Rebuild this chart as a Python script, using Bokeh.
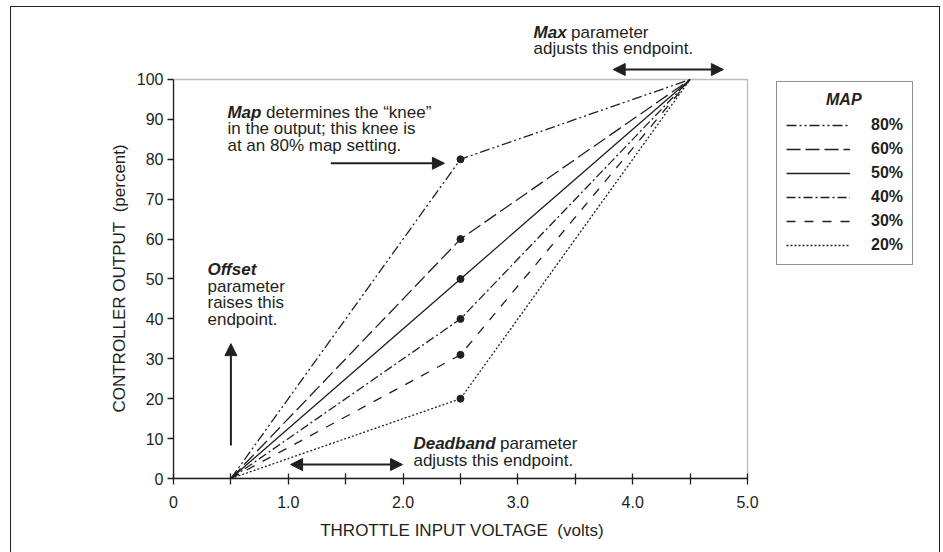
from bokeh.plotting import figure
from bokeh.models import (Range1d, FixedTicker, Label, Arrow, NormalHead,
                          BoxAnnotation, Legend, LegendItem)
from bokeh.embed import file_html
from bokeh.resources import INLINE

# ---------------- data ----------------
map_settings = ["80%", "60%", "50%", "40%", "30%", "20%"]
knee_outputs = [80, 60, 50, 40, 31, 20]       # controller output (%) at the knee
start_voltage = 0.5                            # deadband endpoint (volts)
knee_voltage = 2.5
end_voltage = 4.5                              # max endpoint (volts)
start_output = 0
end_output = 100
x_ticks = [0, 1, 2, 3, 4, 5]
x_minor_ticks = [0.5, 1.5, 2.5, 3.5, 4.5]
x_tick_labels = ["0", "1.0", "2.0", "3.0", "4.0", "5.0"]
y_ticks = [0, 10, 20, 30, 40, 50, 60, 70, 80, 90, 100]

# ---------------- styles ----------------
FONT = "Liberation Sans"
INK = "#231f20"
NBSP = "\u00a0"
dash_styles = ["10 3 2 3 2 3", "14 5", "solid", "9 3 2 3", "9 9", "2 2"]

# the frame extends beyond the axes' bounds so that the notes above the
# box and the legend to its right are not clipped
p = figure(width=928, height=545,
           frame_width=766, frame_height=471,
           x_range=Range1d(0, 6.6725), y_range=Range1d(0, 118.045),
           min_border_left=162, min_border_right=0,
           min_border_top=0, min_border_bottom=74,
           output_backend="svg", toolbar_location=None,
           background_fill_color="white", border_fill_color="white",
           margin=(7, 0, 0, 11),
           styles={"outline": "1.5px solid #231f20"})
p.grid.visible = False
p.outline_line_color = None

# box around the data area
p.add_layout(BoxAnnotation(left=x_ticks[0], right=x_ticks[-1],
                           bottom=y_ticks[0], top=y_ticks[-1],
                           fill_alpha=0, line_color=INK, line_width=1.3))

# x axis (label padded so that it is centred under the 0-5 V span)
xa = p.xaxis[0]
xa.bounds = (x_ticks[0], x_ticks[-1])
xa.ticker = FixedTicker(ticks=x_ticks, minor_ticks=x_minor_ticks)
xa.major_label_overrides = {t: lab for t, lab in zip(x_ticks, x_tick_labels)}
xa.major_tick_in = 5
xa.major_tick_out = 6
xa.minor_tick_in = 5
xa.minor_tick_out = 6
xa.axis_label = "THROTTLE INPUT VOLTAGE" + NBSP + " (volts)" + NBSP * 40
xa.major_label_standoff = 11
xa.axis_label_standoff = 10

# y axis (label padded so that it is centred beside the 0-100 % span)
ya = p.yaxis[0]
ya.bounds = (y_ticks[0], y_ticks[-1])
ya.ticker = FixedTicker(ticks=y_ticks, minor_ticks=[])
ya.major_tick_in = 0
ya.major_tick_out = 6
ya.minor_tick_in = 0
ya.minor_tick_out = 0
ya.axis_label = "CONTROLLER OUTPUT" + NBSP + " (percent)" + NBSP * 15
ya.major_label_standoff = 4
ya.axis_label_standoff = 5

for ax in (xa, ya):
    ax.axis_line_color = INK
    ax.axis_line_width = 1.3
    ax.major_tick_line_color = INK
    ax.minor_tick_line_color = INK
    ax.major_tick_line_width = 1.3
    ax.minor_tick_line_width = 1.3
    ax.major_label_text_font = FONT
    ax.major_label_text_font_size = "16px"
    ax.major_label_text_color = INK
    ax.axis_label_text_font = FONT
    ax.axis_label_text_font_size = "17px"
    ax.axis_label_text_font_style = "normal"
    ax.axis_label_text_color = INK

# lines
items = []
for label, knee, dash in zip(map_settings, knee_outputs, dash_styles):
    r = p.line([start_voltage, knee_voltage, end_voltage],
               [start_output, knee, end_output],
               line_color=INK, line_width=1.3, line_dash=dash)
    items.append(LegendItem(label=label, renderers=[r]))
p.scatter([knee_voltage] * len(knee_outputs), knee_outputs, size=7,
          fill_color=INK, line_color=INK)

legend = Legend(items=items, location=(603, 213), title=NBSP * 9 + "MAP",
                title_text_font=FONT, title_text_font_size="16px",
                title_text_font_style="bold italic", title_text_color=INK,
                title_standoff=6,
                label_text_font=FONT, label_text_font_size="16px",
                label_text_font_style="bold", label_text_color=INK,
                glyph_width=64, glyph_height=20, label_height=20,
                label_standoff=21, spacing=4, padding=9, margin=0,
                border_line_color=INK, border_line_width=1.3,
                background_fill_color="white", background_fill_alpha=1)
p.add_layout(legend, "center")

# annotations
def lab(text, x, y, style="normal", x_offset=0):
    p.add_layout(Label(x=x, y=y, x_offset=x_offset, text=text, text_font=FONT,
                       text_font_size="17px", text_font_style=style,
                       text_color=INK, text_baseline="middle"))

lab("Map", 0.47, 91.73, "bold italic")
lab("determines the \u201cknee\u201d", 0.47, 91.73, x_offset=38.5)
lab("in the output; this knee is", 0.47, 87.72)
lab("at an 80% map setting.", 0.47, 83.46)

lab("Max", 3.136, 111.78, "bold italic")
lab("parameter", 3.136, 111.78, x_offset=37.5)
lab("adjusts this endpoint.", 3.136, 107.77)

lab("Offset", 0.296, 52.38, "bold italic")
lab("parameter", 0.296, 48.12)
lab("raises this", 0.296, 44.11)
lab("endpoint.", 0.296, 39.85)

lab("Deadband", 2.09, 8.77, "bold italic")
lab("parameter", 2.09, 8.77, x_offset=86.5)
lab("adjusts this endpoint.", 2.09, 4.51)

def head():
    return NormalHead(size=12, fill_color=INK, line_color=INK, line_width=1)

p.add_layout(Arrow(x_start=1.37, y_start=79.0, x_end=2.36, y_end=79.0,
                   end=head(), line_color=INK, line_width=2))
p.add_layout(Arrow(x_start=0.5, y_start=8.3, x_end=0.5, y_end=33.8,
                   end=head(), line_color=INK, line_width=2))
p.add_layout(Arrow(x_start=1.02, y_start=3.5, x_end=1.995, y_end=3.5,
                   start=head(), end=head(), line_color=INK, line_width=2))
p.add_layout(Arrow(x_start=3.83, y_start=102.5, x_end=4.79, y_end=102.5,
                   start=head(), end=head(), line_color=INK, line_width=2))

open("out.html", "w").write(file_html(p, INLINE))
